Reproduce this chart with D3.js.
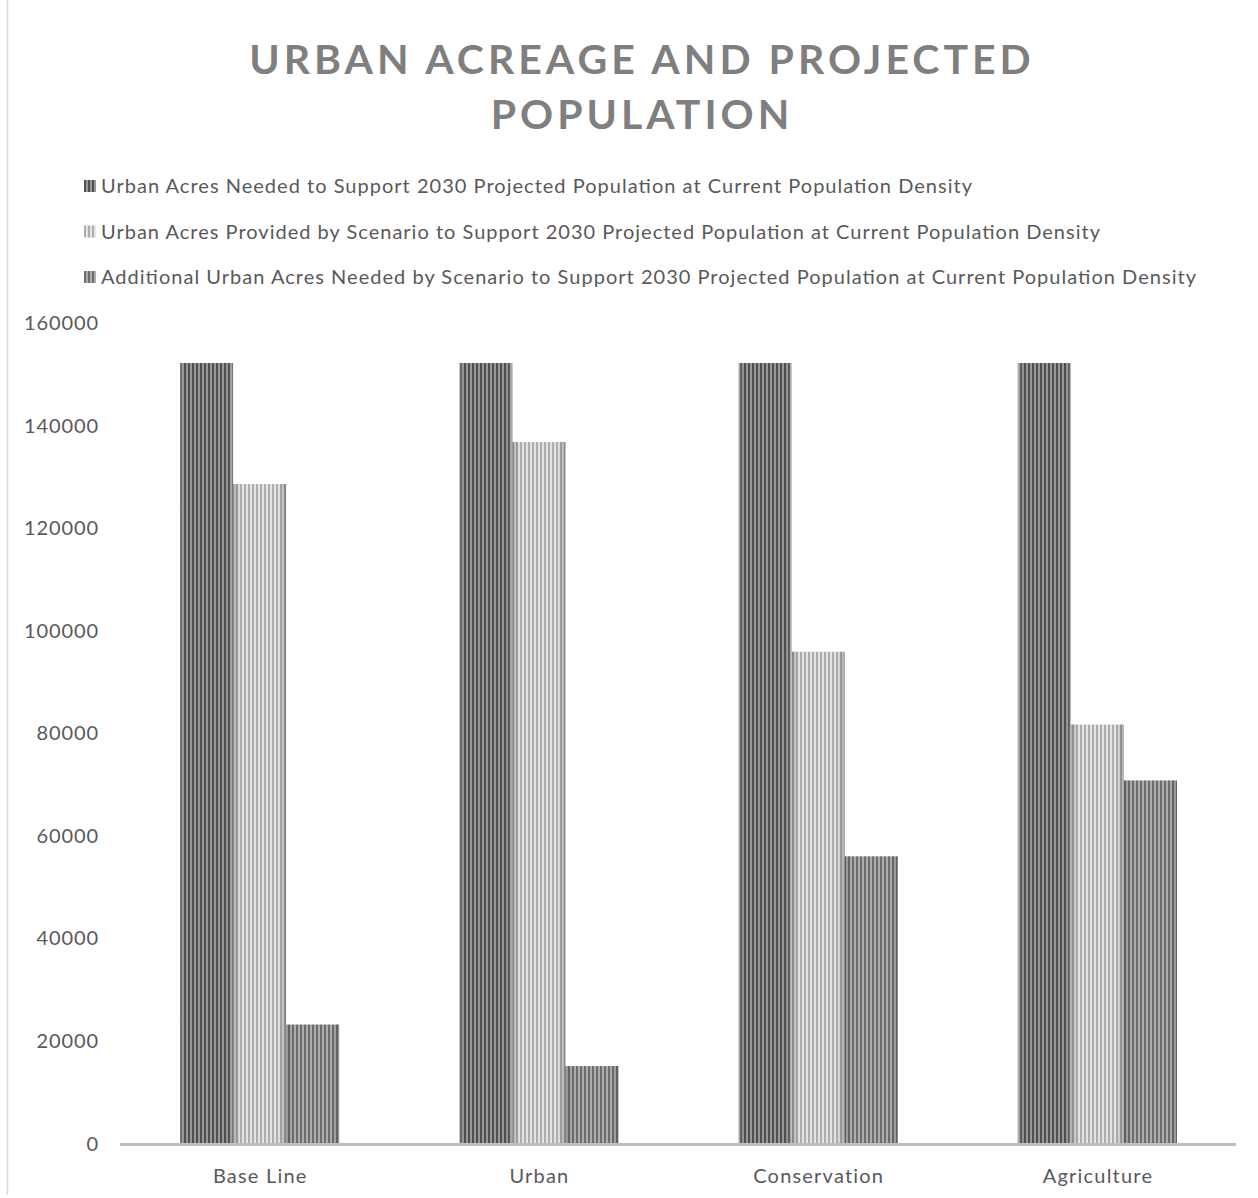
<!DOCTYPE html>
<html><head><meta charset="utf-8">
<script src="https://cdn.jsdelivr.net/npm/d3@7"></script>
<style>body{margin:0;background:#fff;} svg{display:block;}</style>
</head><body>
<script>
const categories = ["Base Line", "Urban", "Conservation", "Agriculture"];
const seriesNames = [
  "Urban Acres Needed to Support 2030 Projected Population at Current Population Density",
  "Urban Acres Provided by Scenario to Support 2030 Projected Population at Current Population Density",
  "Additional Urban Acres Needed by Scenario to Support 2030 Projected Population at Current Population Density"
];
const needed = [152200, 152200, 152200, 152200];
const provided = [128600, 136800, 95900, 81700];
const additional = [23200, 15100, 56000, 70800];
const yTicks = [0, 20000, 40000, 60000, 80000, 100000, 120000, 140000, 160000];
const titleLines = ["URBAN ACREAGE AND PROJECTED", "POPULATION"];

const series = [needed, provided, additional];
const W = 1258, H = 1198;
const svg = d3.select("body").append("svg").attr("width", W).attr("height", H);
const font = "Lato, 'Open Sans', sans-serif";

// patterns
const defs = svg.append("defs");
const pat = [
  {a:"#4f4f4f", b:"#999999", edge:"rgba(255,255,255,0.28)"},
  {a:"#adadad", b:"#e4e4e4", edge:"rgba(0,0,0,0.25)"},
  {a:"#6c6c6c", b:"#adadad", edge:"rgba(0,0,0,0.15)"}
];
pat.forEach((p,i)=>{
  const pt = defs.append("pattern").attr("id","p"+i).attr("patternUnits","userSpaceOnUse")
    .attr("width",4).attr("height",4);
  pt.append("rect").attr("width",4).attr("height",4).attr("fill",p.b);
  pt.append("rect").attr("width",2).attr("height",4).attr("fill",p.a);
  const g = defs.append("linearGradient").attr("id","g"+i).attr("x1","0").attr("x2","1").attr("y1","0").attr("y2","0");
  g.append("stop").attr("offset","0").attr("stop-color",p.edge);
  g.append("stop").attr("offset","0.14").attr("stop-color","rgba(0,0,0,0)");
  g.append("stop").attr("offset","0.86").attr("stop-color","rgba(0,0,0,0)");
  g.append("stop").attr("offset","1").attr("stop-color",p.edge);
});

// left border
svg.append("line").attr("x1",7.5).attr("x2",7.5).attr("y1",0).attr("y2",1195)
  .attr("stroke","#d9d9d9").attr("stroke-width",1.5);

// title
svg.append("text").attr("x",642).attr("y",74).attr("text-anchor","middle")
  .selectAll("tspan").data(titleLines).join("tspan")
  .attr("x",642).attr("dy",(d,i)=>i?55:0).text(d=>d)
  .attr("font-family",font).attr("font-weight","bold").attr("font-size",41)
  .attr("letter-spacing",4).attr("fill","#7f7f7f");

// legend
const legendWidths = [871, 999, 1095];
const leg = svg.append("g");
seriesNames.forEach((n,i)=>{
  const y = 186 + i*45.5;
  leg.append("rect").attr("x",84).attr("y",y-6).attr("width",12).attr("height",12).attr("fill","url(#p"+i+")");
  leg.append("text").attr("x",101).attr("y",y).attr("dy","0.35em")
    .attr("font-family",font).attr("font-size",20).attr("fill","#595959")
    .attr("textLength",legendWidths[i]).attr("lengthAdjust","spacing").text(n);
});

// scales
const x = d3.scaleBand().domain(categories).range([120,1237]).paddingInner(0.43).paddingOuter(0.215);
const y = d3.scaleLinear().domain([0,160000]).range([1143.5,323]);
const xs = d3.scaleBand().domain([0,1,2]).range([0,x.bandwidth()]);

// y axis labels
svg.append("g").selectAll("text").data(yTicks).join("text")
  .attr("x",99).attr("y",d=>y(d)).attr("dy","0.35em").attr("text-anchor","end")
  .attr("font-family",font).attr("font-size",20).attr("letter-spacing",0.9)
  .attr("fill","#595959").text(d=>d);

// bars
series.forEach((vals,si)=>{
  const g = svg.append("g");
  g.selectAll("rect.b").data(vals).join("rect").attr("class","b")
    .attr("x",(d,i)=>x(categories[i])+xs(si)).attr("width",xs.bandwidth())
    .attr("y",d=>y(d)).attr("height",d=>y(0)-y(d)).attr("fill","url(#p"+si+")");
  g.selectAll("rect.s").data(vals).join("rect").attr("class","s")
    .attr("x",(d,i)=>x(categories[i])+xs(si)).attr("width",xs.bandwidth())
    .attr("y",d=>y(d)).attr("height",d=>y(0)-y(d)).attr("fill","url(#g"+si+")");
});

// x axis
svg.append("line").attr("x1",120).attr("x2",1236).attr("y1",1144.5).attr("y2",1144.5)
  .attr("stroke","#bfbfbf").attr("stroke-width",3);
svg.append("g").selectAll("text").data(categories).join("text")
  .attr("x",d=>x(d)+x.bandwidth()/2+0.6).attr("y",1176).attr("dy","0.35em").attr("text-anchor","middle")
  .attr("font-family",font).attr("font-size",20).attr("letter-spacing",1.2)
  .attr("fill","#595959").text(d=>d);
</script>
</body></html>
